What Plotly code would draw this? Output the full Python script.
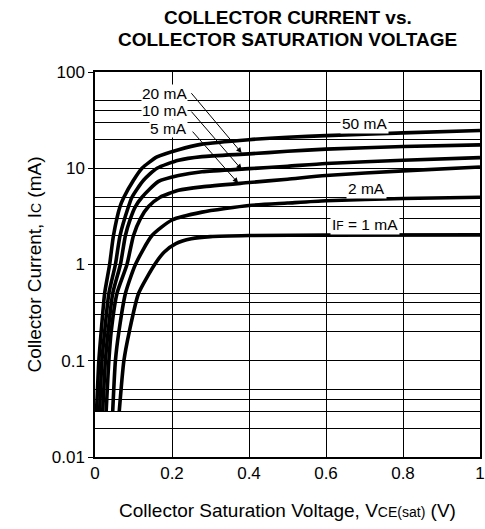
import numpy as np
import plotly.graph_objects as go

# ---- data ----
series_labels = ["50 mA", "20 mA", "10 mA", "5 mA", "2 mA", "1 mA"]

vce_50 = [0.004, 0.010, 0.016, 0.025, 0.038, 0.048, 0.065, 0.075, 0.100, 0.122, 0.161, 0.217, 0.278, 0.40, 0.50, 0.60, 0.80, 1.00]
ic_50 = [0.03, 0.1, 0.2, 0.5, 1.0, 2.0, 4.0, 5.0, 7.5, 10.0, 13.1, 15.6, 17.8, 19.8, 21.0, 21.8, 23.3, 24.7]

vce_20 = [0.012, 0.018, 0.025, 0.036, 0.053, 0.065, 0.087, 0.096, 0.126, 0.161, 0.217, 0.278, 0.40, 0.50, 0.60, 0.80, 1.00]
ic_20 = [0.03, 0.1, 0.2, 0.5, 1.0, 2.0, 4.0, 5.0, 7.5, 10.0, 12.1, 13.2, 14.1, 15.0, 15.8, 16.8, 17.5]

vce_10 = [0.020, 0.027, 0.034, 0.046, 0.066, 0.079, 0.092, 0.105, 0.122, 0.165, 0.217, 0.278, 0.40, 0.50, 0.60, 0.80, 1.00]
ic_10 = [0.03, 0.1, 0.2, 0.5, 1.0, 2.0, 3.0, 4.0, 5.0, 7.3, 8.4, 9.2, 9.9, 10.5, 11.2, 12.1, 12.9]

vce_5 = [0.029, 0.036, 0.042, 0.057, 0.083, 0.100, 0.118, 0.139, 0.169, 0.217, 0.278, 0.40, 0.50, 0.60, 0.80, 1.00]
ic_5 = [0.03, 0.1, 0.2, 0.5, 1.0, 2.0, 3.0, 4.0, 5.0, 5.9, 6.4, 7.1, 7.7, 8.4, 9.4, 10.3]

vce_2 = [0.046, 0.053, 0.062, 0.079, 0.105, 0.148, 0.200, 0.278, 0.40, 0.50, 0.60, 0.80, 1.00]
ic_2 = [0.03, 0.1, 0.2, 0.5, 1.0, 2.0, 2.9, 3.5, 4.1, 4.35, 4.6, 4.85, 5.0]

vce_1 = [0.063, 0.075, 0.089, 0.113, 0.155, 0.180, 0.210, 0.250, 0.300, 0.40, 0.60, 1.00]
ic_1 = [0.03, 0.1, 0.2, 0.5, 1.0, 1.35, 1.65, 1.85, 1.95, 2.0, 2.02, 2.03]

x_tick_vals = [0, 0.2, 0.4, 0.6, 0.8, 1]
x_tick_text = ["0", "0.2", "0.4", "0.6", "0.8", "1"]
y_tick_vals = [0.01, 0.1, 1, 10, 100]
y_tick_text = ["0.01", "0.1", "1", "10", "100"]
y_minor_vals = [m * d for d in [0.01, 0.1, 1, 10] for m in [2, 3, 4, 5]]

title_lines = ["COLLECTOR CURRENT vs.", "COLLECTOR SATURATION VOLTAGE"]

# label positions (x, Ic value)
label_right = [("20 mA", 0.242, 60.4), ("10 mA", 0.242, 40.2), ("5 mA", 0.242, 25.9)]
label_center = [("50 mA", 0.70, 29.4), ("2 mA", 0.705, 6.1),
                ("I<span style='font-size:12px'>F</span> = 1 mA", 0.70, 2.62)]
# arrows: (tail x, tail Ic, head x, head Ic)
arrows = [(0.247, 62.4, 0.381, 14.4), (0.247, 40.2, 0.381, 9.7), (0.250, 24.9, 0.372, 7.0)]

FONT = "Liberation Sans, Arial, sans-serif"
W, H = 485, 529
ML, MR, MT, MB = 95, 5, 72, 72
PH = H - MT - MB

fig = go.Figure()
for xs, ys in [(vce_50, ic_50), (vce_20, ic_20), (vce_10, ic_10), (vce_5, ic_5), (vce_2, ic_2), (vce_1, ic_1)]:
    fig.add_trace(go.Scatter(x=xs, y=ys, mode="lines",
                             line=dict(color="black", width=3.6, shape="spline", smoothing=0.6),
                             showlegend=False, hoverinfo="skip"))

annotations = []
for txt, x, y in label_right:
    annotations.append(dict(x=x, y=np.log10(y), xref="x", yref="y", text=txt, showarrow=False,
                            xanchor="right", yanchor="middle", bgcolor="white", borderpad=0,
                            font=dict(family=FONT, size=15.5, color="black")))
for txt, x, y in label_center:
    annotations.append(dict(x=x, y=np.log10(y), xref="x", yref="y", text=txt, showarrow=False,
                            xanchor="center", yanchor="middle", bgcolor="white", borderpad=1,
                            font=dict(family=FONT, size=15.5, color="black")))
for tx, ty, hx, hy in arrows:
    annotations.append(dict(x=hx, y=np.log10(hy), xref="x", yref="y", ax=tx, ay=np.log10(ty),
                            axref="x", ayref="y", text="", showarrow=True, arrowhead=2,
                            arrowsize=1.1, arrowwidth=1, arrowcolor="black", standoff=0, startstandoff=0))
# title lines (centred over the plot area)
for txt, ypx in zip(title_lines, [17, 40]):
    annotations.append(dict(x=0.5, y=1 + (MT - ypx) / PH, xref="paper", yref="paper",
                            text="<b>" + txt + "</b>", showarrow=False, xanchor="center", yanchor="middle",
                            font=dict(family=FONT, size=19, color="black")))

fig.update_layout(
    width=W, height=H,
    margin=dict(l=ML, r=MR, t=MT, b=MB, autoexpand=False),
    paper_bgcolor="white", plot_bgcolor="white",
    font=dict(family=FONT, size=17, color="black"),
    annotations=annotations,
)
fig.update_xaxes(range=[0, 1], tickvals=x_tick_vals, ticktext=x_tick_text,
                 showgrid=True, gridcolor="black", gridwidth=1.2,
                 showline=True, linecolor="black", linewidth=1.5, mirror=True,
                 ticks="", zeroline=False, automargin=False, ticklabeloverflow="allow",
                 title=dict(text="Collector Saturation Voltage, V<span style='font-size:14px'>CE(sat)</span> (V)",
                            font=dict(family=FONT, size=19), standoff=22))
fig.update_yaxes(type="log", range=[-2, 2], tickvals=y_tick_vals, ticktext=y_tick_text,
                 showgrid=True, gridcolor="black", gridwidth=1.2,
                 showline=True, linecolor="black", linewidth=1.5, mirror=True,
                 ticks="outside", ticklen=5, tickcolor="black", zeroline=False, automargin=False,
                 minor=dict(tickvals=y_minor_vals, showgrid=True, gridcolor="black", gridwidth=1.2, ticks=""),
                 title=dict(text="Collector Current, I<span style='font-size:14px'>C</span> (mA)",
                            font=dict(family=FONT, size=19), standoff=5))

# remove the page's default body margin so the figure fills the window exactly; hide the modebar
fig.write_html("out.html", config={"displayModeBar": False},
               post_script="document.body.style.margin='0';document.body.style.overflow='hidden';")
